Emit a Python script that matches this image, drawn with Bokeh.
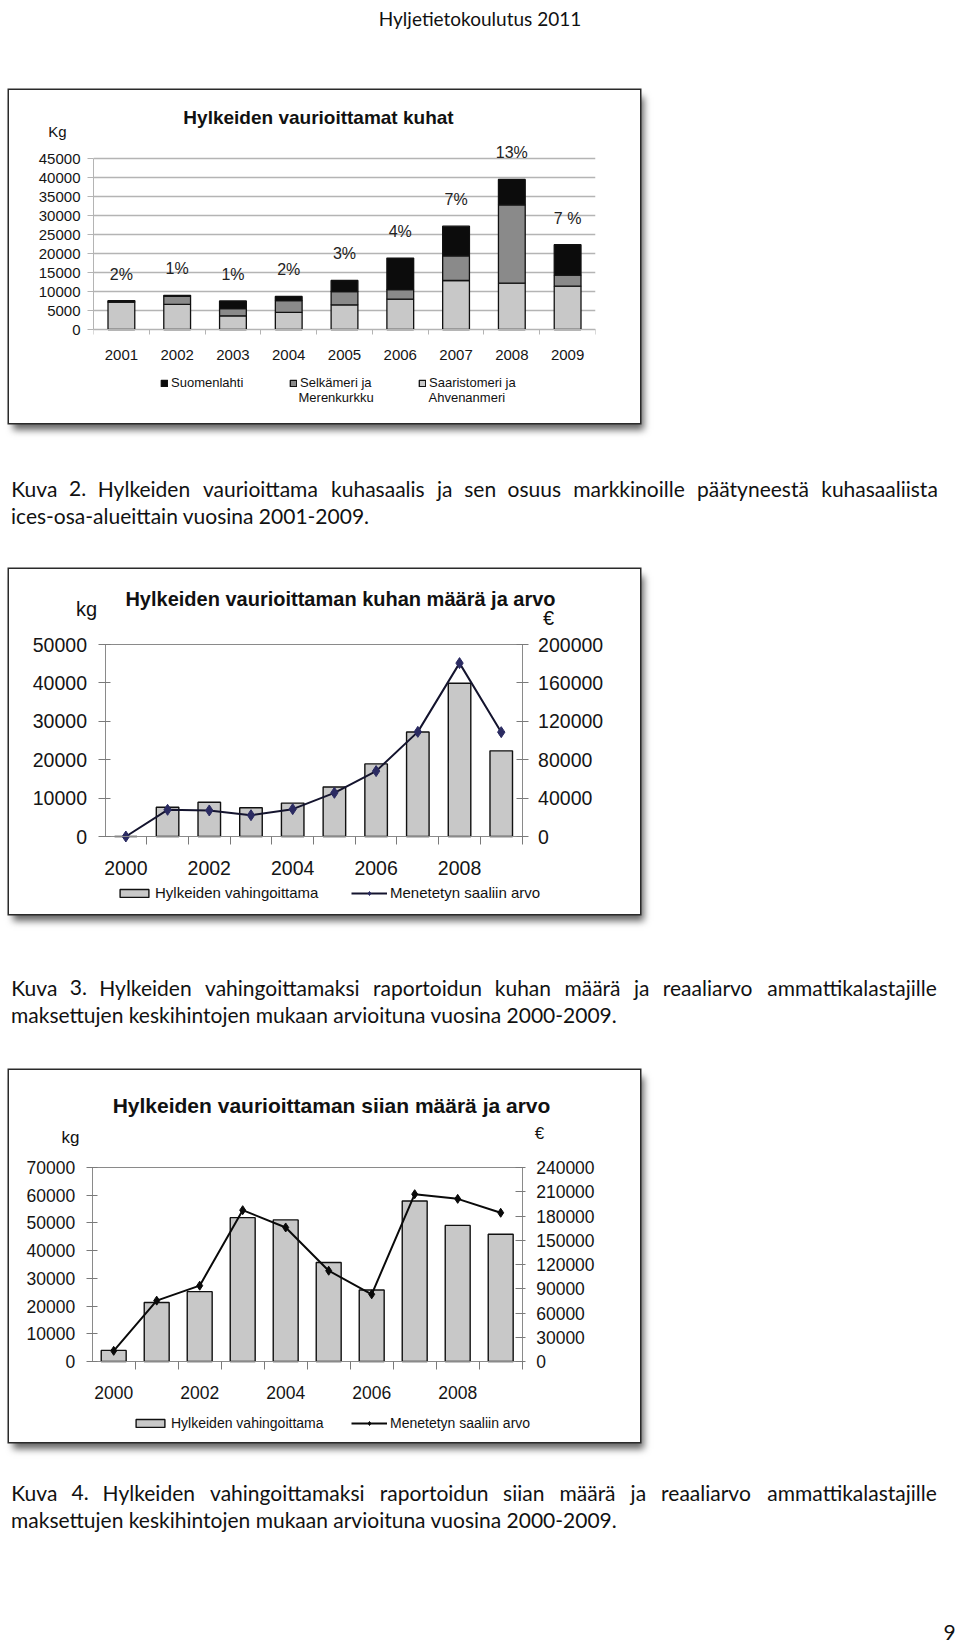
from bokeh.plotting import figure
from bokeh.models import (Range1d, LinearAxis, FixedTicker, NumeralTickFormatter,
                          LabelSet, ColumnDataSource, Legend, LegendItem)
from bokeh.core.properties import value
from bokeh.embed import file_html
from bokeh.resources import INLINE

# ---------------- data ----------------
# Chart 1: Hylkeiden vaurioittamat kuhat (kg) by area
kuha_vuodet = [2001, 2002, 2003, 2004, 2005, 2006, 2007, 2008, 2009]
saaristomeri = [7200, 6600, 3600, 4500, 6500, 8000, 12900, 12200, 11400]
selkameri = [100, 2100, 1900, 3100, 3500, 2500, 6500, 20600, 2900]
suomenlahti = [300, 300, 2000, 1100, 2900, 8300, 7800, 6700, 8000]
osuus = ["2%", "1%", "1%", "2%", "3%", "4%", "7%", "13%", "7 %"]

# Chart 2: kuha, amount (kg) and value (EUR)
vuodet = [2000, 2001, 2002, 2003, 2004, 2005, 2006, 2007, 2008, 2009]
kuha_kg = [0, 7600, 8900, 7500, 8700, 12900, 18900, 27200, 39900, 22300]
kuha_eur = [0, 27800, 27100, 22200, 28500, 45500, 68100, 109000, 180600, 108700]

# Chart 3: siika, amount (kg) and value (EUR)
siika_kg = [4000, 21300, 25200, 51900, 51100, 35700, 25800, 57900, 49100, 45900]
siika_eur = [13200, 75300, 93800, 187200, 165800, 112300, 83100, 207000, 201200, 184000]

# tick lists
ticks_c1_left = [0, 5000, 10000, 15000, 20000, 25000, 30000, 35000, 40000, 45000]
ticks_c2_left = [0, 10000, 20000, 30000, 40000, 50000]
ticks_c2_right = [0, 40000, 80000, 120000, 160000, 200000]
ticks_c3_left = [0, 10000, 20000, 30000, 40000, 50000, 60000, 70000]
ticks_c3_right = [0, 30000, 60000, 90000, 120000, 150000, 180000, 210000, 240000]
x_label_years = [2000, 2002, 2004, 2006, 2008]

# texts
header_text = "Hyljetietokoulutus 2011"
caption1 = ["Kuva 2. Hylkeiden vaurioittama kuhasaalis ja sen osuus markkinoille päätyneestä kuhasaaliista",
            "ices-osa-alueittain vuosina 2001-2009."]
caption2 = ["Kuva 3. Hylkeiden vahingoittamaksi raportoidun kuhan määrä ja reaaliarvo ammattikalastajille",
            "maksettujen keskihintojen mukaan arvioituna vuosina 2000-2009."]
caption3 = ["Kuva 4. Hylkeiden vahingoittamaksi raportoidun siian määrä ja reaaliarvo ammattikalastajille",
            "maksettujen keskihintojen mukaan arvioituna vuosina 2000-2009."]
page_number = "9"
title1 = "Hylkeiden vaurioittamat kuhat"
title2 = "Hylkeiden vaurioittaman kuhan määrä ja arvo"
title3 = "Hylkeiden vaurioittaman siian määrä ja arvo"

# ---------------- styles ----------------
FONT = "Liberation Sans"
PAGE_FONT = "Lato"
PAGE_FS = 21
SHADOW = "0 0 0 1.5px #2a2a2a, 4px 7px 7px rgba(0,0,0,0.6)"
LIGHT = "#c8c8c8"
MID = "#8a8a8a"
DARK = "#0c0c0c"
AXIS_GREY = "#8a8a8a"


def place(p, left, top, z=1, shadow=False):
    st = {"position": "absolute", "left": f"{left}px", "top": f"{top}px", "z-index": str(z)}
    if shadow:
        st["box-shadow"] = SHADOW
    p.styles = st


def span_range(fig_start, fig_len, a_px, b_px, a_val, b_val):
    """Data range over a whole figure side so that a_val/b_val land on page pixels a_px/b_px."""
    ppu = (b_px - a_px) / (b_val - a_val)
    return (a_val - (a_px - fig_start) / ppu, b_val + (fig_start + fig_len - b_px) / ppu)


def kg_range(fig_top, fig_h, zero_px, top_px, top_val):
    ppu = (zero_px - top_px) / top_val
    return (-(fig_top + fig_h - zero_px) / ppu, (zero_px - fig_top) / ppu)


def style_axis(ax, fs):
    ax.axis_line_color = AXIS_GREY
    ax.major_tick_line_color = "#7a7a7a"
    ax.minor_tick_line_color = None
    ax.major_label_text_font = FONT
    ax.major_label_text_font_size = fs
    ax.major_label_text_color = "#151515"


def make_legend(items, loc, fs, gw, gh, lw):
    return Legend(items=items, location=loc, orientation="horizontal",
                  padding=0, margin=0, spacing=0, border_line_color=None,
                  background_fill_alpha=0, glyph_width=gw, glyph_height=gh,
                  label_standoff=3, label_text_font=FONT, label_text_font_size=fs,
                  label_width=lw, label_height=12, label_text_color="#111111")


# ---------------- chart 1 ----------------
C1_TOP, C1_H = 90, 333
totals = [a + b + c for a, b, c in zip(saaristomeri, selkameri, suomenlahti)]
src1 = ColumnDataSource(dict(x=kuha_vuodet, saar=saaristomeri, selk=selkameri, suom=suomenlahti,
                             ly=[t + 7000 for t in totals], osuus=osuus))
p1 = figure(width=631, height=C1_H, title=None, x_range=Range1d(2000.5, 2009.5),
            y_range=Range1d(*kg_range(C1_TOP, C1_H, 329, 158, 45000)),
            min_border_left=84, min_border_right=45, min_border_top=0, min_border_bottom=0,
            toolbar_location=None, output_backend="svg")
stack = p1.vbar_stack(["saar", "selk", "suom"], x="x", width=0.48, source=src1,
                      fill_color=[LIGHT, MID, DARK], line_color="#111111", line_width=1.3)
p1.outline_line_color = None
p1.xgrid.visible = False
p1.ygrid.grid_line_color = "#b4b4b4"
p1.ygrid.grid_line_width = 1.5
p1.yaxis.ticker = FixedTicker(ticks=ticks_c1_left)
p1.ygrid.ticker = FixedTicker(ticks=ticks_c1_left)
p1.yaxis.formatter = NumeralTickFormatter(format="0")
p1.yaxis.bounds = (0, 45000)
style_axis(p1.yaxis[0], "15px")
p1.yaxis.major_tick_out = 6
p1.yaxis.major_tick_in = 0
p1.yaxis.major_tick_line_color = "#b4b4b4"
p1.yaxis.major_label_standoff = 7
p1.yaxis.axis_line_color = "#b4b4b4"
p1.xaxis.fixed_location = 0
p1.xaxis.ticker = FixedTicker(ticks=kuha_vuodet, minor_ticks=[2000.5] + [v + 0.5 for v in kuha_vuodet])
style_axis(p1.xaxis[0], "15px")
p1.xaxis.axis_line_color = "#b4b4b4"
p1.xaxis.major_tick_line_color = None
p1.xaxis.major_tick_out = 0
p1.xaxis.major_tick_in = 0
p1.xaxis.minor_tick_line_color = "#b4b4b4"
p1.xaxis.minor_tick_out = 5
p1.xaxis.minor_tick_in = 0
p1.xaxis.major_label_standoff = 15
p1.add_layout(LabelSet(x="x", y="ly", text="osuus", source=src1, text_align="center",
                       text_baseline="middle", text_font=value(FONT),
                       text_font_size=value("16px"), text_color="#222222"))
leg1 = make_legend([LegendItem(label="Suomenlahti", renderers=[stack[2]]),
                    LegendItem(label="Selkämeri ja", renderers=[stack[1]]),
                    LegendItem(label="Saaristomeri ja", renderers=[stack[0]])],
                   (67, 33), "13px", 8, 8, 118)
p1.add_layout(leg1)
place(p1, 9, C1_TOP, z=1, shadow=True)


# ---------------- charts 2 & 3 ----------------
def dual_chart(top, height, kg, eur, left_ticks, right_ticks, x_px, y_px, kg_max, eur_max,
               fs, bar_w, left_tick, right_tick, leg_loc, leg_lw, leg_fs, line_col, mark_col,
               mark_size):
    LEFT, WIDTH = 9, 631
    x0, x1 = span_range(LEFT, WIDTH, x_px[0], x_px[1], 1999.5, 2009.5)
    y0, y1 = kg_range(top, height, y_px[0], y_px[1], kg_max)
    p = figure(width=WIDTH, height=height, title=None, x_range=Range1d(x0, x1),
               y_range=Range1d(y0, y1), min_border=0,
               toolbar_location=None, output_backend="svg")
    xb = p.below[0]
    yl = p.left[0]
    k = eur_max / kg_max
    p.extra_y_ranges = {"eur": Range1d(y0 * k, y1 * k)}
    bars = p.vbar(x=vuodet, top=kg, width=bar_w, fill_color=LIGHT, line_color="#111111",
                  line_width=1.4)
    ln = p.line(vuodet, eur, y_range_name="eur", line_color=line_col, line_width=2)
    mk = p.scatter(vuodet, eur, y_range_name="eur", marker="diamond", size=mark_size,
                   fill_color=mark_col, line_color=mark_col)
    p.outline_line_color = None
    p.grid.visible = False
    # left kg axis
    yl.ticker = FixedTicker(ticks=left_ticks)
    yl.formatter = NumeralTickFormatter(format="0")
    yl.bounds = (0, kg_max)
    yl.fixed_location = 1999.5
    style_axis(yl, fs)
    yl.major_tick_out, yl.major_tick_in, yl.major_label_standoff = left_tick
    # right EUR axis
    right = LinearAxis(y_range_name="eur", ticker=FixedTicker(ticks=right_ticks),
                       formatter=NumeralTickFormatter(format="0"), bounds=(0, eur_max),
                       fixed_location=2009.5)
    style_axis(right, fs)
    right.major_tick_out, right.major_tick_in, right.major_label_standoff = right_tick
    p.add_layout(right, "right")
    # bottom year axis
    xb.fixed_location = 0
    xb.bounds = (1999.5, 2009.5)
    xb.ticker = FixedTicker(ticks=x_label_years, minor_ticks=[v + 0.5 for v in vuodet])
    style_axis(xb, fs)
    xb.major_tick_line_color = None
    xb.major_tick_out = 0
    xb.major_tick_in = 0
    xb.minor_tick_line_color = "#7a7a7a"
    xb.minor_tick_out = 8
    xb.minor_tick_in = 0
    xb.major_label_standoff = 16
    # top frame line
    topline = LinearAxis(ticker=FixedTicker(ticks=[]), fixed_location=kg_max,
                         bounds=(1999.5, 2009.5), axis_line_color=AXIS_GREY,
                         major_label_text_font_size="0px")
    p.add_layout(topline, "above")
    lg = make_legend([LegendItem(label="Hylkeiden vahingoittama", renderers=[bars]),
                      LegendItem(label="Menetetyn saaliin arvo", renderers=[ln, mk])],
                     leg_loc, leg_fs, 36, 10, leg_lw)
    p.add_layout(lg)
    place(p, LEFT, top, z=1, shadow=True)
    return p


p2 = dual_chart(569, 345, kuha_kg, kuha_eur, ticks_c2_left, ticks_c2_right,
                (104.5, 521.6), (836, 644), 50000, 200000, "19.5px", 0.54,
                (7, 5, 11), (6, 6, 10), (107, 13), 196, "15px", "#14142e", "#2b2b62", 11)

p3 = dual_chart(1070, 372, siika_kg, siika_eur, ticks_c3_left, ticks_c3_right,
                (91.7, 521.7), (1361, 1167), 70000, 240000, "17.5px", 0.58,
                (6, 5, 11), (3, 7, 11), (123, 11), 180, "14px", "#0a0a0a", "#0a0a0a", 9)

# ---------------- page text overlay (data coords == page pixels) ----------------
OW, OH = 956, 1643
ov = figure(width=OW, height=OH, title=None, x_range=Range1d(0, OW), y_range=Range1d(OH, 0),
            x_axis_type=None, y_axis_type=None, toolbar_location=None, output_backend="svg",
            min_border=0)
ov.grid.visible = False
ov.outline_line_color = None
ov.background_fill_color = None
ov.border_fill_color = None


def ptext(x, y, t, font=PAGE_FONT, fs=f"{PAGE_FS}px", align="left", bold=False, color="#111111"):
    ov.text(x=[x], y=[y], text=[t], text_font=value(font), text_font_size=value(fs),
            text_align=align, text_baseline="middle",
            text_font_style="bold" if bold else "normal", text_color=color)


# rough advance widths of the page font (em), used only to spread justified words
EM = {'a': .51, 'b': .56, 'c': .46, 'd': .56, 'e': .52, 'f': .32, 'g': .50, 'h': .56, 'i': .245,
      'j': .245, 'k': .51, 'l': .245, 'm': .85, 'n': .56, 'o': .56, 'p': .56, 'q': .56, 'r': .37,
      's': .43, 't': .35, 'u': .56, 'v': .51, 'w': .78, 'x': .49, 'y': .51, 'z': .46, 'ä': .51,
      'ö': .56, 'K': .64, 'H': .74, ' ': .19, '.': .22, '-': .34}


def text_w(s):
    return sum(EM.get(c, .58) for c in s) * PAGE_FS


def justified(line, left, right, y):
    words = line.split(" ")
    ws = [text_w(w) for w in words]
    gap = (right - left - sum(ws)) / (len(words) - 1)
    x = left
    for w, wd in zip(words, ws):
        ptext(x + wd / 2, y, w, align="center")
        x += wd + gap


ptext(479.5, 18, header_text, fs="19px", align="center")
for cap, (y1, y2) in ((caption1, (488, 515)), (caption2, (987, 1014)), (caption3, (1492, 1519))):
    justified(cap[0], 10.5, 938, y1)
    ptext(10.5, y2, cap[1])
ptext(949, 1632, page_number, align="center")

# chart headings and unit labels
ptext(318, 117, title1, font=FONT, fs="19px", align="center", bold=True)
ptext(57, 131, "Kg", font=FONT, fs="15px", align="center")
ptext(298, 397, "Merenkurkku", font=FONT, fs="13px")
ptext(428, 397, "Ahvenanmeri", font=FONT, fs="13px")

ptext(340, 598, title2, font=FONT, fs="20px", align="center", bold=True)
ptext(86, 608, "kg", font=FONT, fs="20px", align="center")
ptext(548, 617, "€", font=FONT, fs="20px", align="center")

ptext(331, 1105, title3, font=FONT, fs="21px", align="center", bold=True)
ptext(70, 1137, "kg", font=FONT, fs="17px", align="center")
ptext(539, 1133, "€", font=FONT, fs="17px", align="center")

place(ov, 0, 0, z=5)

open("out.html", "w").write(file_html([p1, p2, p3, ov], INLINE))
